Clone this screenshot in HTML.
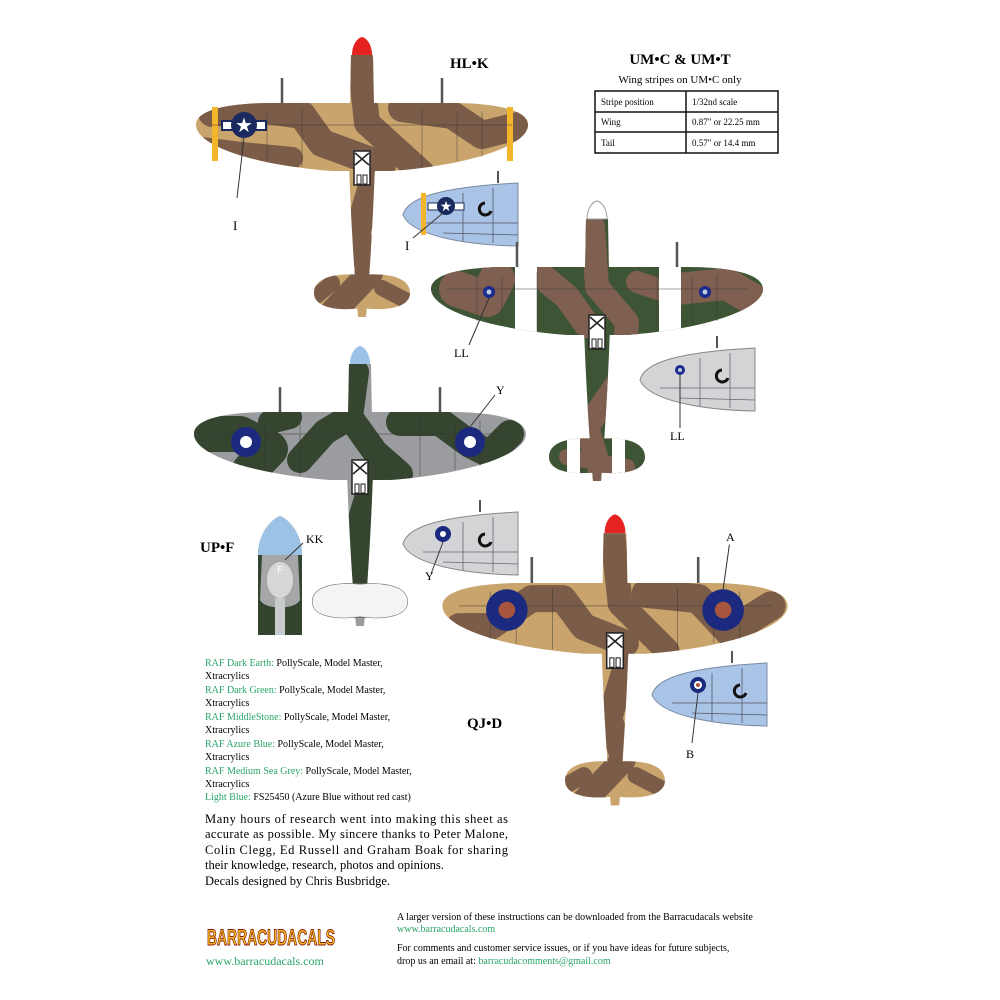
<!DOCTYPE html>
<html><head><meta charset="utf-8"><style>
html,body{margin:0;padding:0;background:#fff}
svg{display:block}
.t{font-family:"Liberation Serif",serif}
</style></head><body>
<svg width="1000" height="1000" viewBox="0 0 1000 1000" xmlns="http://www.w3.org/2000/svg">
<defs>
<path id="wing" d="M-166 22 C-166 6 -130 0 -90 0 L90 0 C130 0 166 6 166 22 C166 42 110 62 30 68 L-30 68 C-110 62 -166 42 -166 22 Z"/>
<path id="body" d="M-11 -48 L11 -48 L13 60 C11 120 7 180 4 214 L-4 214 C-7 180 -11 120 -13 60 Z"/>
<path id="tail" d="M-48 190 C-48 172 -20 170 0 172 C20 170 48 172 48 190 C48 206 20 208 0 205 C-20 208 -48 206 -48 190 Z"/>
<path id="spin" d="M-10 -48 C-10 -58 -5 -65 0 -66 C5 -65 10 -58 10 -48 Z"/>
<clipPath id="cp"><use href="#wing"/><use href="#body"/><use href="#tail"/></clipPath>
<path id="cowl" d="M0 32 C4 14 40 4 115 0 L115 63 C60 62 8 52 0 32 Z"/>
<clipPath id="cc"><use href="#cowl"/></clipPath>
<g id="cock"><rect x="-8" y="48" width="16" height="34" fill="#fff" stroke="#222" stroke-width="1.5"/><path d="M-7 50 L7 62 M7 50 L-7 62" stroke="#222" stroke-width="1.5"/><rect x="-5" y="72" width="4" height="9" fill="#fff" stroke="#222"/><rect x="1" y="72" width="4" height="9" fill="#fff" stroke="#222"/></g>
<g id="lines" fill="none" stroke="#333" stroke-width="0.7" opacity="0.6"><path d="M-150 22 H150 M-120 8 V54 M120 8 V54 M-60 5 V64 M60 5 V64 M-95 10 V58 M95 10 V58"/></g>
<g id="ant"><path d="M-80 -25 V0 M80 -25 V0" stroke="#555" stroke-width="2.5"/></g>
</defs>

<!-- Plane 1 HL.K -->
<g transform="translate(362,103)">
<use href="#ant"/>
<g clip-path="url(#cp)">
<rect x="-170" y="-60" width="340" height="280" fill="#c9a46c"/>
<g fill="none" stroke="#7b5c48" stroke-linecap="round" stroke-linejoin="round">
<path d="M-2 -45 L5 20 L60 70 M10 80 L-5 130 L8 170 L-30 210" stroke-width="26"/>
<path d="M-150 10 L-110 5 L-60 12 L-40 40 L20 62" stroke-width="28"/>
<path d="M-160 45 L-120 50 L-70 55" stroke-width="22"/>
<path d="M40 5 L90 12 L120 32 L160 22" stroke-width="28"/>
<path d="M-30 180 L-48 195 M20 185 L45 198" stroke-width="16"/>
</g>
</g>
<rect x="-150" y="4" width="6" height="54" fill="#f3b52a"/>
<rect x="145" y="4" width="6" height="54" fill="#f3b52a"/>
<use href="#spin" fill="#e52421"/>
<use href="#lines"/>
<use href="#cock"/>
<rect x="-140" y="18" width="44" height="9" fill="#fff" stroke="#1b2a5e" stroke-width="2"/>
<circle cx="-118" cy="22" r="13" fill="#1b2a5e"/>
<text x="-118" y="29" font-size="20" fill="#fff" text-anchor="middle" font-family="DejaVu Sans">★</text>
<path d="M-118 35 L-125 95" stroke="#333" stroke-width="1"/>
</g>
<text class="t" x="233" y="230" font-size="13">I</text>
<text class="t" x="450" y="68" font-size="15" font-weight="bold">HL•K</text>

<!-- cowl 1 -->
<g transform="translate(403,183)">
<path d="M95 0 V-12" stroke="#555" stroke-width="2"/>
<use href="#cowl" fill="#a9c4e6" stroke="#7a8aa0"/>
<g clip-path="url(#cc)" fill="none" stroke="#556" stroke-width="0.8"><path d="M20 40 H115 M60 10 V58 M90 5 V60 M40 50 L115 52"/></g>
<rect x="18" y="10" width="5" height="42" fill="#f3b52a"/>
<rect x="25" y="20" width="36" height="7" fill="#fff" stroke="#1b2a5e"/>
<circle cx="43" cy="23" r="9" fill="#1b2a5e"/><text x="43" y="28" font-size="14" fill="#fff" text-anchor="middle" font-family="DejaVu Sans">★</text>
<path d="M82 20 a6 6 0 1 0 6 8" stroke="#111" stroke-width="3" fill="none"/>
<path d="M40 30 L10 55" stroke="#333"/>
</g>
<text class="t" x="405" y="250" font-size="13">I</text>

<!-- Title table -->
<text class="t" x="680" y="64" font-size="15" font-weight="bold" text-anchor="middle">UM•C &amp; UM•T</text>
<text class="t" x="680" y="83" font-size="11" text-anchor="middle">Wing stripes on UM•C only</text>
<g fill="none" stroke="#111" stroke-width="1.5"><rect x="595" y="91" width="183" height="62"/><path d="M595 112 H778 M595 132 H778 M686 91 V153"/></g>
<g class="t" font-size="9"><text x="601" y="105">Stripe position</text><text x="692" y="105">1/32nd scale</text><text x="601" y="125">Wing</text><text x="692" y="125">0.87" or  22.25 mm</text><text x="601" y="146">Tail</text><text x="692" y="146">0.57" or  14.4 mm</text></g>

<!-- Plane 2 UM.C -->
<g transform="translate(597,267)">
<use href="#ant"/>
<g clip-path="url(#cp)">
<rect x="-170" y="-60" width="340" height="280" fill="#3e5535"/>
<g fill="none" stroke="#7f5f50" stroke-linecap="round" stroke-linejoin="round">
<path d="M-4 -40 L0 20 L30 55 L25 110 L-10 160 L5 210" stroke-width="24"/>
<path d="M-140 22 L-110 32 L-100 12" stroke-width="36"/>
<path d="M-60 5 L-30 30 L-10 58" stroke-width="26"/>
<path d="M80 22 L130 17 L155 32" stroke-width="32"/>
<path d="M40 15 L70 25" stroke-width="22"/>
<path d="M-30 190 L30 200" stroke-width="16"/>
</g>
<rect x="-82" y="-5" width="22" height="80" fill="#fff"/>
<rect x="62" y="-5" width="22" height="80" fill="#fff"/>
<rect x="-30" y="170" width="13" height="40" fill="#fff"/>
<rect x="15" y="170" width="13" height="40" fill="#fff"/>
</g>
<use href="#spin" fill="#fff" stroke="#999"/>
<use href="#lines"/>
<use href="#cock"/>
<circle cx="-108" cy="25" r="6" fill="#1b2a8e"/><circle cx="-108" cy="25" r="2.5" fill="#bcd"/>
<circle cx="108" cy="25" r="6" fill="#1b2a8e"/><circle cx="108" cy="25" r="2.5" fill="#bcd"/>
<path d="M-108 31 L-128 78" stroke="#333"/>
</g>
<text class="t" x="454" y="357" font-size="12">LL</text>

<!-- cowl 2 -->
<g transform="translate(640,348)">
<path d="M77 0 V-12" stroke="#555" stroke-width="2"/>
<use href="#cowl" fill="#d3d4d6" stroke="#888"/>
<g clip-path="url(#cc)" fill="none" stroke="#667" stroke-width="0.8"><path d="M20 40 H115 M60 10 V58 M90 5 V60 M40 50 L115 52"/></g>
<circle cx="40" cy="22" r="5" fill="#1b2a8e"/><circle cx="40" cy="22" r="2" fill="#bcd"/>
<path d="M82 22 a6 6 0 1 0 6 8" stroke="#111" stroke-width="3" fill="none"/>
<path d="M40 27 L40 80" stroke="#333"/>
</g>
<text class="t" x="670" y="440" font-size="12">LL</text>

<!-- Plane 3 UP.F -->
<g transform="translate(360,412)">
<use href="#ant"/>
<g clip-path="url(#cp)">
<rect x="-170" y="-60" width="340" height="280" fill="#9a9c9f"/>
<g fill="none" stroke="#36452f" stroke-linecap="round" stroke-linejoin="round">
<path d="M-4 -40 L-10 5 L-35 20 L-60 48 M-10 5 L15 40 L40 62 M15 60 L0 110 L-5 170" stroke-width="26"/>
<path d="M-155 22 L-120 22 L-90 37 L-110 58" stroke-width="36"/>
<path d="M40 10 L80 10 L110 32 L130 42 L150 22" stroke-width="28"/>
<path d="M-90 10 L-70 5" stroke-width="24"/>
</g>
<use href="#tail" fill="#f4f4f4" stroke="#666"/>
</g>
<use href="#spin" fill="#9cc2e6"/>
<use href="#lines"/>
<use href="#cock"/>
<circle cx="-114" cy="30" r="15" fill="#1b2a7e"/><circle cx="-114" cy="30" r="6" fill="#fff"/>
<circle cx="110" cy="30" r="15" fill="#1b2a7e"/><circle cx="110" cy="30" r="6" fill="#fff"/>
<path d="M110 15 L135 -17" stroke="#333"/>
</g>
<text class="t" x="496" y="394" font-size="12">Y</text>

<!-- cowl 3 -->
<g transform="translate(403,512)">
<path d="M77 0 V-12" stroke="#555" stroke-width="2"/>
<use href="#cowl" fill="#d3d4d6" stroke="#888"/>
<g clip-path="url(#cc)" fill="none" stroke="#667" stroke-width="0.8"><path d="M20 40 H115 M60 10 V58 M90 5 V60 M40 50 L115 52"/></g>
<circle cx="40" cy="22" r="8" fill="#1b2a7e"/><circle cx="40" cy="22" r="3" fill="#fff"/>
<path d="M82 22 a6 6 0 1 0 6 8" stroke="#111" stroke-width="3" fill="none"/>
<path d="M40 30 L28 62" stroke="#333"/>
</g>
<text class="t" x="425" y="580" font-size="12">Y</text>

<!-- nose cone UP.F -->
<g>
<path d="M258 635 L258 555 C258 535 270 520 280 516 C290 520 302 535 302 555 L302 635 Z" fill="#34452f"/>
<path d="M258 555 C258 535 270 520 280 516 C290 520 302 535 302 555 Z" fill="#9cc2e6"/>
<path d="M262 555 H298 L300 600 C295 610 265 610 260 600 Z" fill="#a4a6a8"/>
<ellipse cx="280" cy="580" rx="13" ry="18" fill="#d6d7d8"/>
<rect x="275" y="598" width="10" height="37" fill="#c8c9ca"/>
<text x="277" y="573" font-size="10" fill="#fff" font-family="Liberation Sans">F</text>
<path d="M285 560 L303 543" stroke="#333"/>
</g>
<text class="t" x="306" y="543" font-size="12">KK</text>
<text class="t" x="200" y="552" font-size="15" font-weight="bold">UP•F</text>

<!-- Plane 4 QJ.D -->
<g transform="translate(615,583) scale(1.04)">
<use href="#ant"/>
<g clip-path="url(#cp)">
<rect x="-170" y="-60" width="340" height="280" fill="#c9a46c"/>
<g fill="none" stroke="#7b5c48" stroke-linecap="round" stroke-linejoin="round">
<path d="M-2 -45 L5 20 L50 65 M10 80 L-5 130 L8 170 L-30 210" stroke-width="24"/>
<path d="M-150 42 L-120 42 L-80 15 L-50 15 L-30 42 L10 58" stroke-width="26"/>
<path d="M30 10 L80 15 L110 47 L150 22" stroke-width="28"/>
<path d="M-30 185 L-48 195 M20 185 L45 198" stroke-width="16"/>
</g>
</g>
<use href="#spin" fill="#e52421"/>
<use href="#lines"/>
<use href="#cock"/>
<circle cx="-104" cy="26" r="20" fill="#1b2a7e"/><circle cx="-104" cy="26" r="8" fill="#a8553f"/>
<circle cx="104" cy="26" r="20" fill="#1b2a7e"/><circle cx="104" cy="26" r="8" fill="#a8553f"/>
<path d="M104 6 L110 -37" stroke="#333"/>
</g>
<text class="t" x="726" y="541" font-size="12">A</text>
<text class="t" x="467" y="728" font-size="15" font-weight="bold">QJ•D</text>

<!-- cowl 4 -->
<g transform="translate(652,663)">
<path d="M80 0 V-12" stroke="#555" stroke-width="2"/>
<use href="#cowl" fill="#a9c4e6" stroke="#7a8aa0"/>
<g clip-path="url(#cc)" fill="none" stroke="#556" stroke-width="0.8"><path d="M20 40 H115 M60 10 V58 M90 5 V60 M40 50 L115 52"/></g>
<circle cx="46" cy="22" r="8" fill="#1b2a7e"/><circle cx="46" cy="22" r="4" fill="#fff"/><circle cx="46" cy="22" r="2" fill="#a8553f"/>
<path d="M88 22 a6 6 0 1 0 6 8" stroke="#111" stroke-width="3" fill="none"/>
<path d="M46 30 L40 80" stroke="#333"/>
</g>
<text class="t" x="686" y="758" font-size="12">B</text>

<!-- paint list -->
<g class="t" font-size="10">
<text x="205" y="666"><tspan fill="#2aa56a">RAF Dark Earth:</tspan> PollyScale, Model Master,</text>
<text x="205" y="679">Xtracrylics</text>
<text x="205" y="693"><tspan fill="#2aa56a">RAF Dark Green:</tspan> PollyScale, Model Master,</text>
<text x="205" y="706">Xtracrylics</text>
<text x="205" y="720"><tspan fill="#2aa56a">RAF MiddleStone:</tspan> PollyScale, Model Master,</text>
<text x="205" y="733">Xtracrylics</text>
<text x="205" y="747"><tspan fill="#2aa56a">RAF Azure Blue:</tspan> PollyScale, Model Master,</text>
<text x="205" y="760">Xtracrylics</text>
<text x="205" y="774"><tspan fill="#2aa56a">RAF Medium Sea Grey:</tspan> PollyScale, Model Master,</text>
<text x="205" y="787">Xtracrylics</text>
<text x="205" y="800"><tspan fill="#2aa56a">Light Blue:</tspan>  FS25450 (Azure Blue without red cast)</text>
</g>
<g class="t" font-size="12.5">
<text x="205" y="823" textLength="303">Many hours of research went into making this sheet as</text>
<text x="205" y="838" textLength="303">accurate as possible. My sincere thanks to Peter Malone,</text>
<text x="205" y="854" textLength="303">Colin Clegg, Ed Russell and Graham Boak for sharing</text>
<text x="205" y="869">their knowledge, research, photos and opinions.</text>
<text x="205" y="885">Decals designed by Chris Busbridge.</text>
</g>

<!-- logo -->
<text x="207" y="945" font-family="Liberation Sans" font-size="22" font-weight="bold" fill="#f5c01e" stroke="#8a1a10" stroke-width="1" textLength="128" lengthAdjust="spacingAndGlyphs">BARRACUDACALS</text>
<text class="t" x="206" y="965" font-size="12" fill="#2aa56a">www.barracudacals.com</text>
<g class="t" font-size="10">
<text x="397" y="920">A larger version of these instructions can be downloaded from the Barracudacals website</text>
<text x="397" y="932" fill="#2aa56a">www.barracudacals.com</text>
<text x="397" y="951">For comments and customer service issues, or if you have ideas for future subjects,</text>
<text x="397" y="964">drop us an email at: <tspan fill="#2aa56a">barracudacomments@gmail.com</tspan></text>
</g>
</svg>
</body></html>
